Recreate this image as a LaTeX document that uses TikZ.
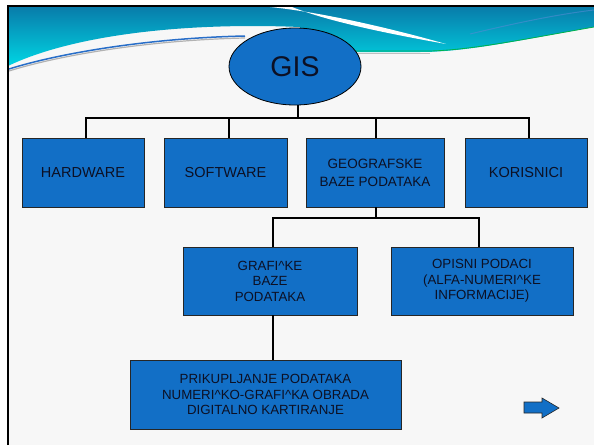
\documentclass[tikz,border=0pt]{standalone}
\usepackage{fontspec}
\usetikzlibrary{shapes.geometric}
\setmainfont{Liberation Sans}
\definecolor{boxblue}{RGB}{18,111,198}
\definecolor{bgc}{RGB}{247,247,247}
\definecolor{bantop}{RGB}{8,124,170}
\definecolor{banbot}{RGB}{0,214,228}
\definecolor{swline}{RGB}{40,110,200}
\definecolor{txt}{RGB}{12,16,36}
\tikzset{
  box/.style={draw=black!85, line width=0.8pt, fill=boxblue, text=txt, align=center, inner sep=2pt},
  conn/.style={draw=black, line width=2pt},
  fa/.style={font=\fontsize{14.5}{17}\selectfont},
  fb/.style={font=\fontsize{13.3}{15.5}\selectfont},
}
\begin{document}
\begin{tikzpicture}[x=1pt,y=-1pt]
\useasboundingbox (0,0) rectangle (594,445);
% background
\fill[white] (0,0) rectangle (594,445);
\fill[bgc] (7,6) rectangle (594,445);
% banner
\shade[top color=bantop, bottom color=banbot]
  (8,7) -- (594,7) -- (594,27)
  .. controls (530,38) and (470,52) .. (420,52) -- (300,52) -- (300,27)
  .. controls (180,22) and (70,36) .. (8,66) -- cycle;
% white stripe top right
\fill[white] (270,7) .. controls (320,12) and (390,28) .. (446,44)
  .. controls (390,34) and (330,22) .. (292,7) -- cycle;
% darker streak top right
\draw[swline!80, line width=1pt, opacity=0.6] (470,34) .. controls (520,22) and (560,14) .. (594,10);
% swoosh line left
\draw[gray!60, line width=1.2pt] (9,71) .. controls (60,55) and (150,40) .. (245,38);
\draw[swline, line width=1.5pt] (9,69) .. controls (60,53) and (150,38) .. (245,36);
\draw[gray!50, line width=1pt] (340,53) -- (430,53);
\draw[teal!60!green, line width=0.8pt] (340,51) -- (430,51) .. controls (470,50) and (520,40) .. (594,27);
% frame
\draw[black, line width=2pt, line join=miter] (7.5,445) -- (7.5,6) -- (594,6);

% nodes
\node[draw=black, line width=0.8pt, fill=boxblue, ellipse, minimum width=132pt, minimum height=77pt, inner sep=0pt,
  font=\fontsize{28.5}{30}\selectfont, text=txt] (gis) at (295,66.5) {GIS};
\node[box, fa, minimum width=122pt, minimum height=69pt] (hw) at (83,172.5) {HARDWARE};
\node[box, fa, minimum width=123pt, minimum height=69pt] (sw) at (225.5,172.5) {SOFTWARE};
\node[box, font=\fontsize{13.5}{18}\selectfont, minimum width=138pt, minimum height=69pt] (geo) at (375,172.5) {GEOGRAFSKE\\BAZE PODATAKA};
\node[box, fa, minimum width=122pt, minimum height=69pt] (kor) at (526,172.5) {KORISNICI};
\node[box, fb, minimum width=174pt, minimum height=68pt] (gra) at (270,281) {GRAFI\^{}KE\\BAZE\\PODATAKA};
\node[box, fb, minimum width=182pt, minimum height=68pt] (opi) at (482,281) {OPISNI PODACI\\(ALFA-NUMERI\^{}KE\\INFORMACIJE)};
\node[box, fb, minimum width=271pt, minimum height=69pt] (pri) at (265.5,394.5) {PRIKUPLJANJE PODATAKA\\NUMERI\^{}KO-GRAFI\^{}KA OBRADA\\DIGITALNO KARTIRANJE};

% connectors
\coordinate (j1) at (298,118);
\coordinate (j2) at (376,218);
\draw[conn] ([xshift=3pt]gis.south) -- (j1);
\draw[conn] ([xshift=3pt]hw.north) |- (j1) -| ([xshift=3pt]kor.north);
\draw[conn] ([xshift=3.5pt]sw.north) -- ([xshift=3.5pt]sw.north |- j1);
\draw[conn] ([xshift=1pt]geo.north) -- ([xshift=1pt]geo.north |- j1);
\draw[conn] ([xshift=1pt]geo.south) -- (j2);
\draw[conn] ([xshift=3pt]gra.north) |- (j2) -| ([xshift=-3pt]opi.north);
\draw[conn] ([xshift=3pt]gra.south) -- ([xshift=3pt]gra.south |- pri.north);

% arrow bottom right
\draw[fill=boxblue, draw=black!85, line width=0.6pt, line join=miter]
  (524,402) -- (542,402) -- (542,398) -- (559,408) -- (542,418) -- (542,413) -- (524,413) -- cycle;
\end{tikzpicture}
\end{document}
